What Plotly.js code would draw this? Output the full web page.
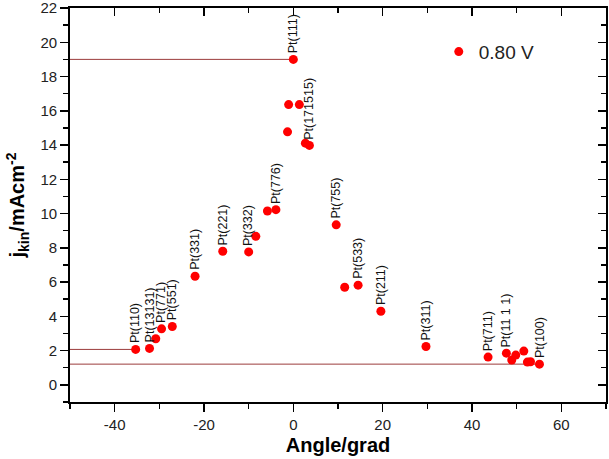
<!DOCTYPE html>
<html>
<head>
<meta charset="utf-8">
<script src="https://cdn.plot.ly/plotly-3.0.1.min.js"></script>
<style>html,body{margin:0;padding:0;background:#fff;}#chart{width:609px;height:459px;}</style>
</head>
<body>
<div id="chart"></div>
<script>
const angle = [-35.3,-32.2,-30.8,-29.5,-27.1,-22.0,-15.8,-10.0,-8.4,-5.8,-3.9,-1.3,-1.05,0,1.35,2.7,3.6,9.6,11.5,14.5,19.6,29.7,43.6,47.7,48.9,49.8,51.6,52.4,53.1,55.1];
const jkin = [2.07,2.13,2.69,3.27,3.41,6.34,7.80,7.76,8.67,10.15,10.23,14.77,16.36,19.0,16.36,14.11,13.98,9.34,5.70,5.82,4.30,2.24,1.62,1.85,1.45,1.74,1.97,1.33,1.35,1.21];
const pointLabels = ['Pt(110)','Pt(13131)','','Pt(771)','Pt(551)','Pt(331)','Pt(221)','Pt(332)','','','Pt(776)','','','Pt(111)','','','Pt(171515)','Pt(755)','','Pt(533)','Pt(211)','Pt(311)','Pt(711)','Pt(11 1 1)','','','','','','Pt(100)'];
const refIndices = [13, 0, 29];
const xTickVals = [-40, -20, 0, 20, 40, 60];
const xTickText = ['-40', '-20', '0', '20', '40', '60'];
const yTickVals = [0, 2, 4, 6, 8, 10, 12, 14, 16, 18, 20, 22];
const yTickText = ['0', '2', '4', '6', '8', '10', '12', '14', '16', '18', '20', '22'];
const xRange = [-50, 70];
const yRange = [-1, 22];
const seriesName = '0.80 V';

const font = 'Arial, "Liberation Sans", sans-serif';
const traces = [];
refIndices.forEach(i => {
  traces.push({x:[xRange[0], angle[i]], y:[jkin[i], jkin[i]], mode:'lines', line:{color:'#9b3b3b', width:1}, showlegend:false, hoverinfo:'skip'});
});
traces.push({x:angle, y:jkin, mode:'markers', name:seriesName, marker:{color:'#ff0000', size:9}});
traces.push({x:[], y:[], xaxis:'x2', yaxis:'y2', showlegend:false});

const annotations = [];
pointLabels.forEach((t, i) => {
  if (!t) return;
  annotations.push({x:angle[i], y:jkin[i], text:t, textangle:-90, showarrow:false, xanchor:'center', yanchor:'bottom', yshift:4, font:{family:font, size:12.5, color:'#111'}});
});

const axCommon = {showline:true, linecolor:'#000', linewidth:1.8, showgrid:false, zeroline:false, tickcolor:'#000', tickwidth:1.5, ticklen:8};
const layout = {
  width:609, height:459,
  margin:{l:70, r:3, t:8, b:57},
  paper_bgcolor:'#fff', plot_bgcolor:'#fff',
  font:{family:font, color:'#222'},
  showlegend:true,
  legend:{x:0.688, y:0.889, xanchor:'left', yanchor:'middle', font:{family:font, size:19, color:'#222'}, bgcolor:'rgba(0,0,0,0)'},
  xaxis:Object.assign({}, axCommon, {range:xRange, tickmode:'array', tickvals:xTickVals, ticktext:xTickText, ticks:'outside', tickfont:{size:15, family:font, color:'#222'},
    minor:{dtick:10, tick0:0, ticks:'outside', ticklen:5, tickcolor:'#000', tickwidth:1.5},
    title:{text:'<b>Angle/grad</b>', font:{size:20, family:font, color:'#000'}, standoff:6}}),
  yaxis:Object.assign({}, axCommon, {range:yRange, tickmode:'array', tickvals:yTickVals, ticktext:yTickText, ticks:'outside', ticklabeloverflow:'allow', tickfont:{size:15, family:font, color:'#222'},
    minor:{dtick:1, tick0:0, ticks:'outside', ticklen:5, tickcolor:'#000', tickwidth:1.5},
    title:{text:'<b>j<sub>kin</sub>/mAcm<sup>-2</sup></b>', font:{size:20, family:font, color:'#000'}, standoff:10}}),
  xaxis2:Object.assign({}, axCommon, {range:xRange, dtick:20, tick0:0, overlaying:'x', side:'top', anchor:'y2', ticks:'inside', showticklabels:false,
    minor:{dtick:10, tick0:0, ticks:'inside', ticklen:5, tickcolor:'#000', tickwidth:1.5}}),
  yaxis2:Object.assign({}, axCommon, {range:yRange, dtick:2, tick0:0, overlaying:'y', side:'right', anchor:'x2', ticks:'inside', showticklabels:false,
    minor:{dtick:1, tick0:0, ticks:'inside', ticklen:5, tickcolor:'#000', tickwidth:1.5}}),
  annotations:annotations
};
Plotly.newPlot('chart', traces, layout, {displayModeBar:false, staticPlot:true});
</script>
</body>
</html>
